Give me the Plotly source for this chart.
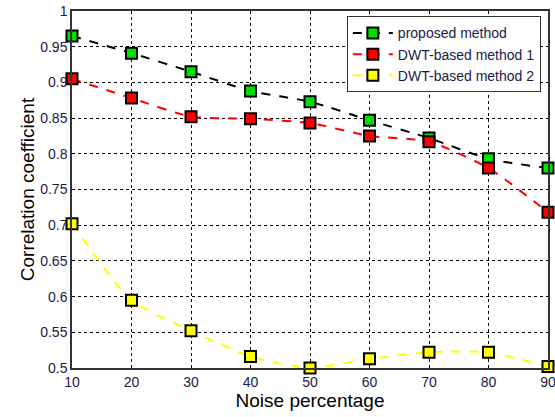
import plotly.graph_objects as go

noise = [10, 20, 30, 40, 50, 60, 70, 80, 90]
proposed = [0.965, 0.941, 0.915, 0.888, 0.873, 0.847, 0.822, 0.793, 0.780]
dwt1 = [0.905, 0.878, 0.852, 0.849, 0.843, 0.825, 0.817, 0.780, 0.718]
dwt2 = [0.702, 0.595, 0.552, 0.516, 0.500, 0.513, 0.522, 0.522, 0.502]
y_ticks = [0.5, 0.55, 0.6, 0.65, 0.7, 0.75, 0.8, 0.85, 0.9, 0.95, 1]
y_labels = ["0.5", "0.55", "0.6", "0.65", "0.7", "0.75", "0.8", "0.85", "0.9", "0.95", "1"]

series = [
    ("proposed method", proposed, "black", "#00e000"),
    ("DWT-based method 1", dwt1, "#ff0000", "#ff0000"),
    ("DWT-based method 2", dwt2, "#ffff00", "#ffff00"),
]

fig = go.Figure()
for name, vals, lc, mc in series:
    fig.add_trace(go.Scatter(
        x=noise, y=vals, name=name, mode="lines+markers",
        line=dict(color=lc, width=2, dash="dash", shape="spline", smoothing=0.6),
        marker=dict(symbol="square", size=11, color=mc, line=dict(color="black", width=2)),
        cliponaxis=False,
    ))

axis_common = dict(
    showline=True, linecolor="#333333", linewidth=1.5, mirror=True,
    showgrid=True, gridcolor="black", gridwidth=1, griddash="dot",
    zeroline=False, ticks="", automargin=False, ticklabeloverflow="allow",
    tickfont=dict(family="Arial, Liberation Sans", size=14, color="#1a1a4a"),
)

fig.update_layout(
    width=555, height=417,
    margin=dict(l=72, r=7, t=11, b=49),
    paper_bgcolor="white", plot_bgcolor="white",
    xaxis=dict(range=[10, 90], tickvals=noise, ticktext=[str(v) for v in noise],
               title=dict(text="Noise percentage", font=dict(family="Arial, Liberation Sans", size=19, color="black"), standoff=0),
               **axis_common),
    yaxis=dict(range=[0.5, 1], tickvals=y_ticks, ticktext=y_labels,
               title=dict(text="Correlation coefficient", font=dict(family="Arial, Liberation Sans", size=19, color="black"), standoff=1),
               **axis_common),
    legend=dict(x=0.985, y=0.985, xanchor="right", yanchor="top",
                bgcolor="white", bordercolor="#333333", borderwidth=1,
                font=dict(family="Arial, Liberation Sans", size=14, color="#1a1a4a"),
                tracegroupgap=0, itemwidth=40),
    showlegend=True,
)

fig.write_html("out.html", config={"displayModeBar": False},
               post_script="document.body.style.margin='0';document.body.style.overflow='hidden';")
